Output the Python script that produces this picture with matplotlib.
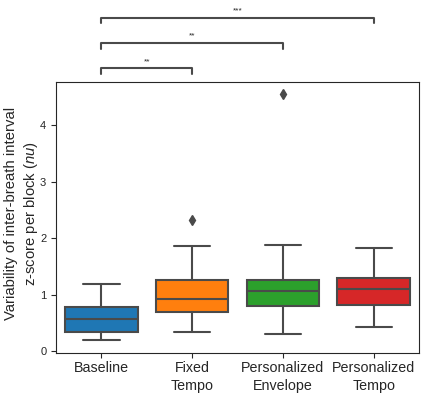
import matplotlib
matplotlib.use('Agg')
import matplotlib.pyplot as plt
import seaborn as sns

# box summary per condition
conditions = ['Baseline', 'Fixed\nTempo', 'Personalized\nEnvelope', 'Personalized\nTempo']
whislo = [0.20, 0.34, 0.31, 0.43]
q1 = [0.34, 0.69, 0.80, 0.82]
med = [0.57, 0.92, 1.06, 1.10]
q3 = [0.78, 1.27, 1.27, 1.29]
whishi = [1.20, 1.86, 1.88, 1.83]
fliers = [[], [2.33], [4.55], []]
colors = ['#1f77b4', '#ff7f0e', '#2ca02c', '#d62728']

# significance brackets: (from, to, label, bar height)
pairs = [(0, 1, '**', 5.01), (0, 2, '**', 5.46), (0, 3, '***', 5.91)]

sns.set_style('ticks')
plt.rcParams['font.family'] = ['Liberation Sans', 'DejaVu Sans']
plt.rcParams['mathtext.fontset'] = 'custom'
plt.rcParams['mathtext.it'] = 'Liberation Sans:italic'
fig = plt.figure(figsize=(4.29, 3.98), dpi=100)
ax = fig.add_axes([0.1305, 0.113, 0.8465, 0.681])

stats = []
for i in range(len(conditions)):
    stats.append(dict(whislo=whislo[i], q1=q1[i], med=med[i], q3=q3[i],
                      whishi=whishi[i], fliers=fliers[i]))

lc = '#4a4a4a'
bp = ax.bxp(stats, positions=range(len(conditions)), widths=0.8,
            patch_artist=True, showfliers=True,
            boxprops=dict(edgecolor=lc, linewidth=1.5),
            medianprops=dict(color=lc, linewidth=1.5),
            whiskerprops=dict(color=lc, linewidth=1.5),
            capprops=dict(color=lc, linewidth=1.5),
            flierprops=dict(marker='d', markerfacecolor=lc, markeredgecolor=lc,
                            markersize=5))
for patch, c in zip(bp['boxes'], colors):
    patch.set_facecolor(c)
for cap in bp['caps']:
    x = cap.get_xdata()
    mid = (x[0] + x[1]) / 2
    cap.set_xdata([mid - 0.2, mid + 0.2])

ax.set_xlim(-0.5, 3.5)
ax.set_ylim(-0.03, 4.77)
ax.set_xticks(range(len(conditions)))
ax.set_xticklabels(conditions, fontsize=10.3, linespacing=1.35)
ax.tick_params(axis='x', pad=2.5)
ax.set_yticks([0, 1, 2, 3, 4])
ax.tick_params(axis='y', labelsize=8)
ax.set_ylabel('Variability of inter-breath interval\nz-score per block ($nu$)',
              fontsize=10.7, linespacing=1.3)
ax.yaxis.set_label_coords(-0.045, 0.515)

for a, b, lab, h in pairs:
    ax.plot([a, a, b, b], [h - 0.1, h, h, h - 0.1], color=lc, lw=1.5, clip_on=False)
    ax.text((a + b) / 2, h + 0.06, lab, ha='center', va='bottom', fontsize=6)

fig.savefig('out.png', dpi=100)
